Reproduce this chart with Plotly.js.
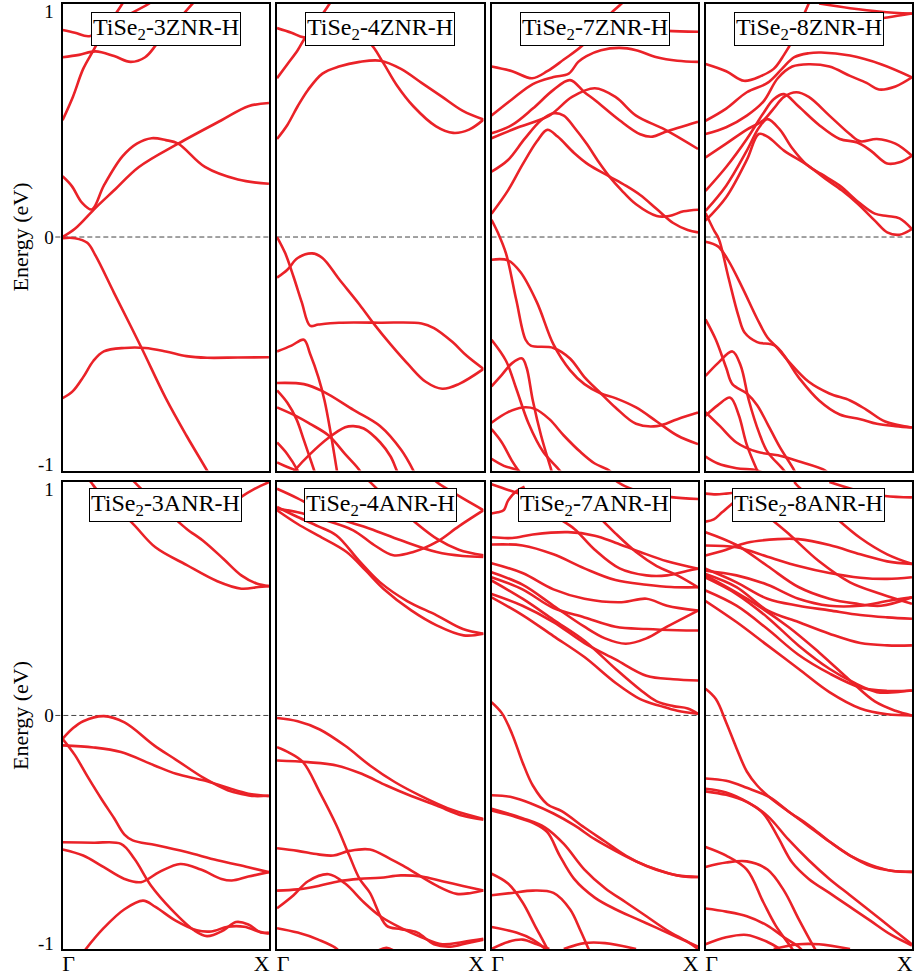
<!DOCTYPE html>
<html><head><meta charset="utf-8">
<script src="https://cdn.plot.ly/plotly-3.0.1.min.js"></script>
<style>html,body{margin:0;padding:0;background:#fff}#chart{width:917px;height:978px}</style>
</head><body><div id="chart"></div>
<script>
// ---------- DATA (k from Γ=0 to X=1, energy in eV) ----------
const panelTitles = ['TiSe<sub>2</sub>-3ZNR-H','TiSe<sub>2</sub>-4ZNR-H','TiSe<sub>2</sub>-7ZNR-H','TiSe<sub>2</sub>-8ZNR-H',
                     'TiSe<sub>2</sub>-3ANR-H','TiSe<sub>2</sub>-4ANR-H','TiSe<sub>2</sub>-7ANR-H','TiSe<sub>2</sub>-8ANR-H'];
// label anchor positions along k (Γ label sits just right of Γ, X label just left of X)
const kTickVals = [0.03, 0.965];
const kTickLabels = ['Γ', 'X'];
// energy label anchor positions (labels sit just inside the frame ends)
const energyTickVals = [-0.975, 0, 0.968];
const energyTickLabels = ['-1', '0', '1'];

const bands3ZNR = [
 [[0,0],[0.06,0.035],[0.16,0.125],[0.25,0.2],[0.37,0.3],[0.56,0.4],[0.77,0.5],[0.9,0.56],[1,0.574]],
 [[0,0.26],[0.045,0.218],[0.094,0.147],[0.142,0.118],[0.2,0.22],[0.29,0.345],[0.36,0.40],[0.432,0.423],[0.5,0.415],[0.56,0.4],[0.69,0.3],[0.85,0.246],[1,0.228]],
 [[0,0.5],[0.05,0.6],[0.1,0.72],[0.15,0.8],[0.2,0.88],[0.29,1.0],[0.32,1.05]],
 [[0,0.887],[0.06,0.875],[0.13,0.86],[0.25,0.92],[0.42,1.0],[0.45,1.02]],
 [[0,0.77],[0.08,0.78],[0.16,0.795],[0.25,0.775],[0.33,0.75],[0.4,0.77],[0.46,0.83],[0.55,0.92],[0.63,1.0],[0.66,1.03]],
 [[0,-0.69],[0.05,-0.66],[0.1,-0.6],[0.15,-0.53],[0.2,-0.49],[0.3,-0.475],[0.4,-0.475],[0.5,-0.49],[0.6,-0.51],[0.7,-0.517],[0.85,-0.516],[1,-0.515]],
 [[0,-0.005],[0.06,-0.005],[0.12,-0.025],[0.16,-0.08],[0.25,-0.24],[0.38,-0.47],[0.5,-0.69],[0.6,-0.85],[0.7,-1.0],[0.75,-1.08]]
];
const bands4ZNR = [
 [[0,0.42],[0.05,0.48],[0.1,0.56],[0.15,0.63],[0.22,0.70],[0.3,0.73],[0.4,0.75],[0.5,0.755],[0.6,0.72],[0.7,0.66],[0.8,0.6],[0.9,0.54],[1,0.503]],
 [[0,0.895],[0.07,0.875],[0.13,0.855],[0.25,0.86],[0.38,0.86],[0.45,0.83],[0.513,0.748],[0.58,0.65],[0.66,0.56],[0.77,0.474],[0.853,0.446],[0.93,0.46],[1,0.503]],
 [[0,0.68],[0.05,0.74],[0.1,0.8],[0.13,0.845],[0.2,0.93],[0.255,1.0],[0.28,1.04]],
 [[0,0],[0.04,-0.07],[0.08,-0.17],[0.12,-0.28],[0.16,-0.38],[0.2,-0.375],[0.3,-0.367],[0.5,-0.367],[0.7,-0.37],[0.76,-0.39],[0.85,-0.45],[0.92,-0.51],[1,-0.565]],
 [[0,-0.174],[0.05,-0.14],[0.1,-0.09],[0.17,-0.07],[0.22,-0.09],[0.3,-0.18],[0.4,-0.29],[0.47,-0.373],[0.55,-0.46],[0.64,-0.55],[0.72,-0.62],[0.8,-0.65],[0.88,-0.63],[1,-0.565]],
 [[0,-0.49],[0.07,-0.465],[0.13,-0.44],[0.16,-0.5],[0.2,-0.6],[0.23,-0.7],[0.26,-0.84],[0.29,-1.0],[0.3,-1.05]],
 [[0,-0.625],[0.13,-0.63],[0.22,-0.66],[0.37,-0.74],[0.5,-0.81],[0.6,-0.91],[0.66,-1.0],[0.68,-1.04]],
 [[0,-0.657],[0.05,-0.71],[0.094,-0.78],[0.13,-0.87],[0.18,-1.0],[0.2,-1.05]],
 [[0,-0.73],[0.1,-0.77],[0.16,-0.8],[0.25,-0.85],[0.33,-0.93],[0.4,-1.0],[0.42,-1.04]],
 [[0.04,-1.05],[0.085,-1.0],[0.16,-0.93],[0.25,-0.86],[0.33,-0.815],[0.37,-0.81],[0.42,-0.82],[0.5,-0.88],[0.55,-0.94],[0.58,-1.0],[0.6,-1.04]],
 [[0,-0.88],[0.05,-0.93],[0.1,-1.0],[0.12,-1.04]],
 [[0,-0.965],[0.05,-0.985],[0.09,-1.0],[0.12,-1.03]]
];
const bands7ZNR = [
 [[0,0.73],[0.1,0.71],[0.197,0.68],[0.27,0.71],[0.35,0.76],[0.44,0.82],[0.52,0.9],[0.58,0.96],[0.63,1.0],[0.66,1.03]],
 [[0,0.52],[0.1,0.59],[0.2,0.655],[0.3,0.685],[0.374,0.7],[0.42,0.75],[0.46,0.775],[0.53,0.8],[0.62,0.81],[0.7,0.8],[0.8,0.77],[0.9,0.755],[1,0.75]],
 [[0.4,0.93],[0.7,0.89],[0.85,0.883],[1,0.879]],
 [[0,0.423],[0.13,0.47],[0.28,0.52],[0.39,0.6],[0.5,0.637],[0.6,0.6],[0.7,0.52],[0.84,0.46],[1,0.377]],
 [[0,0.444],[0.1,0.48],[0.2,0.55],[0.3,0.63],[0.38,0.672],[0.45,0.62],[0.5,0.587],[0.62,0.5],[0.72,0.44],[0.78,0.43],[0.84,0.45],[1,0.494]],
 [[0,0.28],[0.08,0.33],[0.16,0.42],[0.24,0.5],[0.3,0.53],[0.35,0.52],[0.4,0.47],[0.46,0.4],[0.52,0.32],[0.57,0.26],[0.63,0.2],[0.7,0.14],[0.8,0.09],[0.86,0.09],[0.93,0.11],[1,0.117]],
 [[0,0.1],[0.08,0.2],[0.15,0.31],[0.22,0.41],[0.27,0.459],[0.32,0.43],[0.4,0.36],[0.47,0.31],[0.57,0.26],[0.65,0.22],[0.72,0.18],[0.8,0.12],[0.88,0.06],[0.95,0.03],[1,0.02]],
 [[0,0.074],[0.03,0.02],[0.07,-0.07],[0.12,-0.27],[0.165,-0.44],[0.19,-0.465],[0.3,-0.475],[0.38,-0.52],[0.45,-0.6],[0.53,-0.67],[0.6,-0.73],[0.7,-0.8],[0.8,-0.81],[0.9,-0.78],[1,-0.752]],
 [[0,-0.097],[0.08,-0.1],[0.14,-0.15],[0.22,-0.28],[0.3,-0.46],[0.38,-0.57],[0.45,-0.63],[0.53,-0.67],[0.6,-0.69],[0.7,-0.73],[0.8,-0.79],[0.9,-0.85],[1,-0.887]],
 [[0,-0.44],[0.07,-0.53],[0.12,-0.65],[0.18,-0.8],[0.25,-0.92],[0.33,-1.0],[0.36,-1.04]],
 [[0,-0.64],[0.05,-0.59],[0.1,-0.54],[0.148,-0.52],[0.17,-0.56],[0.2,-0.7],[0.24,-0.85],[0.29,-1.0],[0.31,-1.06]],
 [[0,-0.795],[0.08,-0.75],[0.15,-0.73],[0.21,-0.736],[0.28,-0.78],[0.35,-0.85],[0.43,-0.92],[0.5,-0.97],[0.57,-1.0],[0.6,-1.03]],
 [[0,-0.823],[0.05,-0.88],[0.1,-0.96],[0.13,-1.0],[0.15,-1.03]],
 [[0,-0.95],[0.06,-0.98],[0.13,-1.0],[0.15,-1.02]]
];
const bands8ZNR = [
 [[0.55,1.0],[0.7,0.98],[0.85,0.965],[1,0.957]],
 [[0.6,0.92],[0.75,0.925],[0.88,0.94],[1,0.957]],
 [[0,0.741],[0.1,0.71],[0.186,0.669],[0.27,0.69],[0.33,0.72],[0.38,0.78],[0.42,0.84],[0.46,0.92],[0.5,1.0],[0.52,1.04]],
 [[0,0.498],[0.1,0.55],[0.2,0.62],[0.3,0.66],[0.37,0.72],[0.43,0.77],[0.5,0.787],[0.56,0.79],[0.7,0.777],[0.85,0.74],[1,0.684]],
 [[0,0.441],[0.1,0.47],[0.2,0.52],[0.28,0.58],[0.35,0.68],[0.42,0.73],[0.5,0.74],[0.6,0.73],[0.7,0.69],[0.78,0.66],[0.84,0.632],[0.92,0.645],[1,0.684]],
 [[0,0.341],[0.1,0.4],[0.2,0.46],[0.28,0.5],[0.33,0.55],[0.38,0.6],[0.44,0.62],[0.5,0.6],[0.6,0.52],[0.7,0.44],[0.75,0.41],[0.83,0.42],[0.92,0.4],[1,0.348]],
 [[0,0.198],[0.1,0.3],[0.2,0.42],[0.28,0.53],[0.33,0.59],[0.38,0.612],[0.45,0.56],[0.55,0.48],[0.65,0.42],[0.735,0.405],[0.8,0.37],[0.88,0.315],[0.94,0.32],[1,0.348]],
 [[0,0.112],[0.1,0.22],[0.2,0.37],[0.26,0.47],[0.3,0.505],[0.36,0.46],[0.42,0.38],[0.49,0.31],[0.56,0.27],[0.65,0.22],[0.74,0.15],[0.82,0.1],[0.88,0.09],[0.94,0.08],[1,0.034]],
 [[0,0.07],[0.1,0.17],[0.2,0.33],[0.258,0.441],[0.3,0.43],[0.38,0.37],[0.49,0.31],[0.58,0.25],[0.66,0.2],[0.74,0.14],[0.82,0.07],[0.88,0.02],[0.94,0.01],[1,0.034]],
 [[0,0.103],[0.04,0.03],[0.065,-0.01],[0.11,-0.17],[0.16,-0.34],[0.19,-0.41],[0.25,-0.45],[0.34,-0.467],[0.45,-0.6],[0.55,-0.7],[0.65,-0.76],[0.75,-0.78],[0.83,-0.8],[0.92,-0.81],[1,-0.816]],
 [[0,-0.02],[0.06,-0.04],[0.11,-0.1],[0.18,-0.22],[0.25,-0.35],[0.3,-0.43],[0.34,-0.467],[0.4,-0.53],[0.5,-0.62],[0.6,-0.67],[0.7,-0.7],[0.78,-0.74],[0.87,-0.79],[1,-0.816]],
 [[0,-0.353],[0.05,-0.44],[0.1,-0.56],[0.13,-0.63],[0.2,-0.67],[0.25,-0.72],[0.3,-0.8],[0.36,-0.9],[0.43,-1.0],[0.45,-1.04]],
 [[0,-0.595],[0.06,-0.54],[0.13,-0.49],[0.17,-0.55],[0.21,-0.7],[0.26,-0.84],[0.3,-0.92],[0.38,-1.0],[0.4,-1.03]],
 [[0,-0.766],[0.06,-0.72],[0.12,-0.688],[0.16,-0.76],[0.2,-0.89],[0.25,-1.0],[0.27,-1.04]],
 [[0,-0.75],[0.07,-0.81],[0.15,-0.88],[0.25,-0.92],[0.35,-0.935],[0.45,-0.96],[0.58,-1.0],[0.6,-1.02]],
 [[0,-0.94],[0.06,-0.97],[0.15,-0.99],[0.25,-1.0],[0.3,-1.02]]
];
const bands3ANR = [
 [[0.75,0.86],[0.866,0.936],[0.93,0.97],[1,1.0],[1.02,1.01]],
 [[0.12,1.02],[0.137,1.0],[0.2,0.93],[0.332,0.829],[0.45,0.72],[0.6,0.645],[0.75,0.575],[0.866,0.543],[0.95,0.55],[1,0.554]],
 [[0.33,1.02],[0.348,1.0],[0.43,0.93],[0.526,0.857],[0.6,0.8],[0.688,0.743],[0.78,0.67],[0.866,0.6],[0.94,0.565],[1,0.554]],
 [[0,-0.1],[0.05,-0.055],[0.1,-0.025],[0.2,-0.003],[0.3,-0.03],[0.445,-0.129],[0.55,-0.19],[0.688,-0.27],[0.8,-0.32],[0.866,-0.336],[0.93,-0.345],[1,-0.343]],
 [[0,-0.128],[0.15,-0.137],[0.283,-0.157],[0.445,-0.214],[0.55,-0.25],[0.688,-0.279],[0.8,-0.31],[0.9,-0.335],[1,-0.346]],
 [[0,-0.1],[0.06,-0.17],[0.12,-0.26],[0.19,-0.36],[0.25,-0.44],[0.3,-0.51],[0.34,-0.535],[0.45,-0.555],[0.6,-0.585],[0.75,-0.62],[0.9,-0.65],[1,-0.671]],
 [[0,-0.543],[0.15,-0.545],[0.283,-0.55],[0.348,-0.614],[0.429,-0.729],[0.526,-0.829],[0.639,-0.921],[0.7,-0.945],[0.78,-0.92],[0.84,-0.885],[0.9,-0.895],[0.96,-0.93],[1,-0.93]],
 [[0,-0.574],[0.1,-0.6],[0.2,-0.65],[0.3,-0.7],[0.38,-0.714],[0.47,-0.67],[0.57,-0.636],[0.67,-0.66],[0.77,-0.7],[0.82,-0.707],[0.9,-0.69],[1,-0.671]],
 [[0.08,-1.04],[0.113,-1.0],[0.2,-0.91],[0.3,-0.83],[0.39,-0.793],[0.45,-0.82],[0.55,-0.88],[0.65,-0.92],[0.72,-0.925],[0.8,-0.905],[0.88,-0.905],[0.95,-0.925],[1,-0.935]]
];
const bands4ANR = [
 [[0,0.971],[0.1,0.93],[0.256,0.857],[0.45,0.8],[0.6,0.75],[0.773,0.7],[0.9,0.683],[1,0.679]],
 [[0,0.886],[0.1,0.87],[0.207,0.843],[0.369,0.793],[0.47,0.73],[0.563,0.686],[0.66,0.7],[0.773,0.743],[0.88,0.81],[1,0.879]],
 [[0,0.893],[0.1,0.85],[0.2,0.81],[0.288,0.771],[0.4,0.66],[0.498,0.571],[0.63,0.49],[0.773,0.429],[0.9,0.37],[1,0.35]],
 [[0,0.879],[0.1,0.82],[0.2,0.77],[0.337,0.7],[0.43,0.62],[0.515,0.543],[0.65,0.45],[0.773,0.386],[0.903,0.343],[1,0.35]],
 [[0.43,1.02],[0.45,1.0],[0.61,0.871],[0.773,0.757],[0.88,0.71],[1,0.686]],
 [[0.75,1.02],[0.773,1.0],[0.88,0.94],[1,0.879]],
 [[0,-0.011],[0.1,-0.025],[0.207,-0.06],[0.33,-0.13],[0.45,-0.214],[0.57,-0.285],[0.693,-0.343],[0.85,-0.405],[1,-0.443]],
 [[0,-0.193],[0.15,-0.2],[0.288,-0.214],[0.41,-0.25],[0.53,-0.3],[0.65,-0.345],[0.773,-0.386],[0.9,-0.43],[1,-0.447]],
 [[0,-0.136],[0.06,-0.16],[0.126,-0.2],[0.207,-0.329],[0.288,-0.471],[0.35,-0.6],[0.4,-0.7],[0.45,-0.76],[0.53,-0.9],[0.6,-0.915],[0.68,-0.93],[0.76,-0.98],[0.84,-0.99],[0.92,-0.975],[1,-0.96]],
 [[0,-0.569],[0.1,-0.58],[0.2,-0.595],[0.272,-0.6],[0.35,-0.58],[0.45,-0.574],[0.55,-0.615],[0.61,-0.643],[0.773,-0.729],[0.87,-0.764],[0.94,-0.76],[1,-0.75]],
 [[0,-0.75],[0.1,-0.745],[0.2,-0.73],[0.3,-0.71],[0.4,-0.7],[0.5,-0.695],[0.6,-0.685],[0.7,-0.69],[0.8,-0.71],[0.9,-0.73],[1,-0.75]],
 [[0,-0.826],[0.08,-0.77],[0.15,-0.71],[0.25,-0.68],[0.33,-0.72],[0.42,-0.8],[0.5,-0.86],[0.6,-0.91],[0.7,-0.95],[0.8,-0.98],[0.9,-0.97],[1,-0.957]],
 [[0,-0.911],[0.1,-0.93],[0.2,-0.96],[0.29,-1.0],[0.31,-1.03]],
 [[0.45,-1.03],[0.53,-0.995],[0.6,-1.03]]
];
const bands7ANR = [
 [[0.58,1.03],[0.61,1.0],[0.75,0.95],[0.87,0.935],[1,0.927]],
 [[0,0.865],[0.03,0.87],[0.06,0.88],[0.08,0.92],[0.12,0.96],[0.16,0.98]],
 [[0,0.99],[0.05,0.975],[0.1,0.96],[0.2,0.93]],
 [[0,0.763],[0.1,0.76],[0.2,0.775],[0.37,0.785],[0.5,0.77],[0.6,0.74],[0.72,0.7],[0.85,0.66],[1,0.628]],
 [[0,0.732],[0.15,0.728],[0.3,0.69],[0.45,0.63],[0.6,0.58],[0.75,0.56],[0.87,0.55],[1,0.549]],
 [[0.26,0.9],[0.3,0.86],[0.4,0.8],[0.5,0.71],[0.62,0.63],[0.75,0.6],[0.85,0.6],[0.95,0.62],[1,0.628]],
 [[0.45,0.92],[0.5,0.87],[0.6,0.78],[0.7,0.7],[0.8,0.64],[0.9,0.6],[1,0.549]],
 [[0,0.652],[0.15,0.61],[0.3,0.54],[0.45,0.5],[0.63,0.485],[0.75,0.5],[0.85,0.47],[1,0.449]],
 [[0,0.613],[0.15,0.56],[0.3,0.47],[0.45,0.38],[0.55,0.33],[0.65,0.307],[0.75,0.33],[0.85,0.38],[1,0.449]],
 [[0,0.592],[0.15,0.54],[0.3,0.46],[0.45,0.42],[0.6,0.38],[0.75,0.37],[0.9,0.365],[1,0.364]],
 [[0,0.52],[0.15,0.47],[0.3,0.4],[0.45,0.31],[0.6,0.24],[0.75,0.17],[0.88,0.155],[1,0.15]],
 [[0,0.506],[0.15,0.43],[0.3,0.34],[0.45,0.25],[0.6,0.14],[0.72,0.07],[0.82,0.04],[0.9,0.02],[1,0.007]],
 [[0,0.578],[0.15,0.5],[0.3,0.41],[0.45,0.32],[0.6,0.2],[0.72,0.11],[0.8,0.06],[0.88,0.04],[0.95,0.03],[1,0.007]],
 [[0,0.057],[0.05,0.01],[0.1,-0.08],[0.15,-0.2],[0.2,-0.3],[0.27,-0.38],[0.34,-0.41],[0.45,-0.48],[0.55,-0.54],[0.65,-0.6],[0.75,-0.645],[0.85,-0.675],[0.93,-0.69],[1,-0.692]],
 [[0,-0.342],[0.1,-0.35],[0.2,-0.38],[0.3,-0.42],[0.4,-0.47],[0.5,-0.53],[0.6,-0.58],[0.7,-0.625],[0.8,-0.66],[0.9,-0.685],[1,-0.692]],
 [[0,-0.407],[0.1,-0.43],[0.2,-0.46],[0.27,-0.5],[0.33,-0.6],[0.4,-0.7],[0.5,-0.78],[0.6,-0.83],[0.7,-0.87],[0.8,-0.91],[0.9,-0.95],[1,-0.99]],
 [[0,-0.4],[0.15,-0.44],[0.26,-0.48],[0.35,-0.55],[0.45,-0.66],[0.55,-0.74],[0.65,-0.8],[0.75,-0.86],[0.85,-0.92],[0.95,-0.97],[1,-1.0]],
 [[0,-0.678],[0.08,-0.72],[0.15,-0.8],[0.21,-0.9],[0.27,-1.0],[0.29,-1.04]],
 [[0,-0.77],[0.1,-0.76],[0.2,-0.75],[0.3,-0.76],[0.38,-0.83],[0.43,-0.92],[0.47,-1.0],[0.49,-1.04]],
 [[0,-0.906],[0.12,-0.93],[0.2,-0.96],[0.26,-1.0],[0.28,-1.02]],
 [[0,-1.0],[0.08,-0.97],[0.15,-0.96],[0.22,-0.98],[0.28,-1.0]],
 [[0.35,-1.0],[0.45,-0.975],[0.55,-0.975],[0.7,-1.0]]
];
const bands8ANR = [
 [[0.6,1.0],[0.75,0.96],[0.87,0.94],[1,0.934]],
 [[0,0.95],[0.05,0.947],[0.1,0.95],[0.2,0.96]],
 [[0,0.83],[0.04,0.84],[0.08,0.87],[0.12,0.9],[0.16,0.93]],
 [[0,0.685],[0.1,0.71],[0.2,0.74],[0.35,0.755],[0.45,0.755],[0.6,0.73],[0.75,0.69],[0.88,0.66],[1,0.649]],
 [[0,0.728],[0.15,0.72],[0.3,0.68],[0.45,0.64],[0.6,0.61],[0.75,0.59],[0.88,0.585],[1,0.592]],
 [[0,0.785],[0.15,0.73],[0.3,0.64],[0.45,0.55],[0.6,0.5],[0.72,0.48],[0.85,0.47],[1,0.506]],
 [[0.25,0.9],[0.28,0.87],[0.4,0.78],[0.55,0.66],[0.7,0.57],[0.85,0.52],[1,0.478]],
 [[0.43,1.0],[0.45,0.98],[0.6,0.87],[0.75,0.76],[0.88,0.69],[1,0.649]],
 [[0,0.628],[0.15,0.57],[0.3,0.5],[0.45,0.47],[0.6,0.45],[0.75,0.43],[0.88,0.42],[1,0.414]],
 [[0,0.606],[0.15,0.55],[0.3,0.45],[0.45,0.4],[0.6,0.35],[0.75,0.31],[0.88,0.3],[1,0.3]],
 [[0,0.535],[0.15,0.47],[0.3,0.37],[0.45,0.26],[0.6,0.18],[0.75,0.12],[0.88,0.105],[1,0.107]],
 [[0,0.49],[0.15,0.4],[0.3,0.3],[0.45,0.2],[0.6,0.1],[0.75,0.03],[0.88,0.005],[1,0.0]],
 [[0,0.59],[0.15,0.52],[0.3,0.42],[0.45,0.3],[0.6,0.2],[0.72,0.14],[0.83,0.1],[0.92,0.1],[1,0.107]],
 [[0,0.6],[0.2,0.5],[0.4,0.38],[0.55,0.27],[0.7,0.15],[0.82,0.06],[0.92,0.02],[1,0.0]],
 [[0,0.62],[0.15,0.6],[0.3,0.56],[0.45,0.5],[0.6,0.47],[0.75,0.47],[0.88,0.49],[1,0.506]],
 [[0,0.114],[0.05,0.07],[0.1,-0.03],[0.15,-0.14],[0.2,-0.24],[0.25,-0.3],[0.31,-0.35],[0.4,-0.41],[0.5,-0.47],[0.6,-0.54],[0.7,-0.6],[0.8,-0.64],[0.9,-0.665],[1,-0.67]],
 [[0,-0.27],[0.1,-0.28],[0.2,-0.31],[0.31,-0.35],[0.4,-0.41],[0.5,-0.475],[0.6,-0.54],[0.7,-0.6],[0.8,-0.645],[0.9,-0.665],[1,-0.67]],
 [[0,-0.314],[0.1,-0.33],[0.2,-0.37],[0.28,-0.42],[0.35,-0.52],[0.42,-0.63],[0.5,-0.7],[0.6,-0.76],[0.7,-0.82],[0.8,-0.88],[0.9,-0.94],[1,-0.985]],
 [[0,-0.325],[0.1,-0.34],[0.2,-0.37],[0.3,-0.43],[0.4,-0.53],[0.5,-0.62],[0.6,-0.7],[0.7,-0.77],[0.8,-0.84],[0.9,-0.91],[1,-0.98]],
 [[0,-0.563],[0.1,-0.6],[0.2,-0.66],[0.28,-0.8],[0.34,-0.9],[0.42,-1.0],[0.44,-1.03]],
 [[0,-0.649],[0.1,-0.63],[0.2,-0.625],[0.3,-0.66],[0.38,-0.75],[0.45,-0.87],[0.53,-1.0],[0.55,-1.03]],
 [[0,-0.827],[0.1,-0.84],[0.2,-0.86],[0.3,-0.9],[0.38,-0.95],[0.45,-0.99],[0.48,-1.02]],
 [[0,-0.98],[0.1,-0.95],[0.2,-0.94],[0.3,-0.97],[0.36,-1.0]],
 [[0.33,-1.0],[0.45,-0.98],[0.55,-0.98],[0.7,-1.0]]
];
const panelBands = [bands3ZNR, bands4ZNR, bands7ZNR, bands8ZNR, bands3ANR, bands4ANR, bands7ANR, bands8ANR];

// ---------- LAYOUT / STYLE ----------
const bandColor = 'rgb(234,34,40)';
const serif = 'Liberation Serif, Times New Roman, serif';
const colDomains = [[0.0682,0.2933],[0.3021,0.5273],[0.5360,0.7612],[0.7694,0.9945]];
const rowDomains = [[0.5189,0.9964],[0.0297,0.5072]];

const traces = [];
const layout = {
  width: 917, height: 978,
  margin: {l:0, r:0, t:0, b:0},
  paper_bgcolor: 'white', plot_bgcolor: 'white',
  showlegend: false,
  shapes: [], annotations: []
};

panelBands.forEach((bands, p) => {
  const n = p + 1;
  const sfx = n === 1 ? '' : String(n);
  const row = Math.floor(p / 4), col = p % 4;
  bands.forEach(b => {
    traces.push({
      type: 'scatter', mode: 'lines',
      x: b.map(q => q[0]), y: b.map(q => q[1]),
      xaxis: 'x' + sfx, yaxis: 'y' + sfx,
      line: {color: bandColor, width: 2.6, shape: 'spline', smoothing: 1},
      hoverinfo: 'skip'
    });
  });
  layout['xaxis' + sfx] = {
    domain: colDomains[col], range: [0, 1], anchor: 'y' + sfx,
    showline: true, mirror: true, linecolor: 'black', linewidth: 2,
    showgrid: false, zeroline: false, ticks: '',
    tickmode: 'array', tickvals: kTickVals, ticktext: kTickLabels,
    showticklabels: row === 1, ticklabelstandoff: -6,
    tickfont: {family: serif, size: 22, color: 'black'}
  };
  const yax = {
    domain: rowDomains[row], range: [-1, 1], anchor: 'x' + sfx,
    showline: true, mirror: true, linecolor: 'black', linewidth: 2,
    showgrid: false, zeroline: false,
    tickmode: 'array', tickvals: energyTickVals, ticktext: energyTickLabels,
    ticks: '', ticklabelstandoff: 3,
    showticklabels: col === 0,
    tickfont: {family: serif, size: 19, color: 'black'}
  };
  if (col === 0) {
    yax.title = {text: 'Energy (eV)', font: {family: serif, size: 22, color: 'black'}, standoff: 3};
  }
  layout['yaxis' + sfx] = yax;
  layout.shapes.push({
    type: 'line', layer: 'below', xref: 'x' + sfx + ' domain', yref: 'y' + sfx,
    x0: col === 0 ? -0.035 : 0, x1: 1, y0: 0, y1: 0,
    line: {color: '#444', width: 1, dash: '5px,3px'}
  });
  layout.annotations.push({
    xref: 'x' + sfx + ' domain', yref: 'y' + sfx + ' domain',
    x: 0.5, y: row === 0 ? 0.982 : 0.986, xanchor: 'center', yanchor: 'top',
    text: panelTitles[p], showarrow: false,
    font: {family: serif, size: 24, color: 'black'},
    bgcolor: 'white', bordercolor: 'black', borderwidth: 1, borderpad: 1
  });
});

Plotly.newPlot('chart', traces, layout, {displayModeBar: false, staticPlot: true});
</script>
</body></html>
